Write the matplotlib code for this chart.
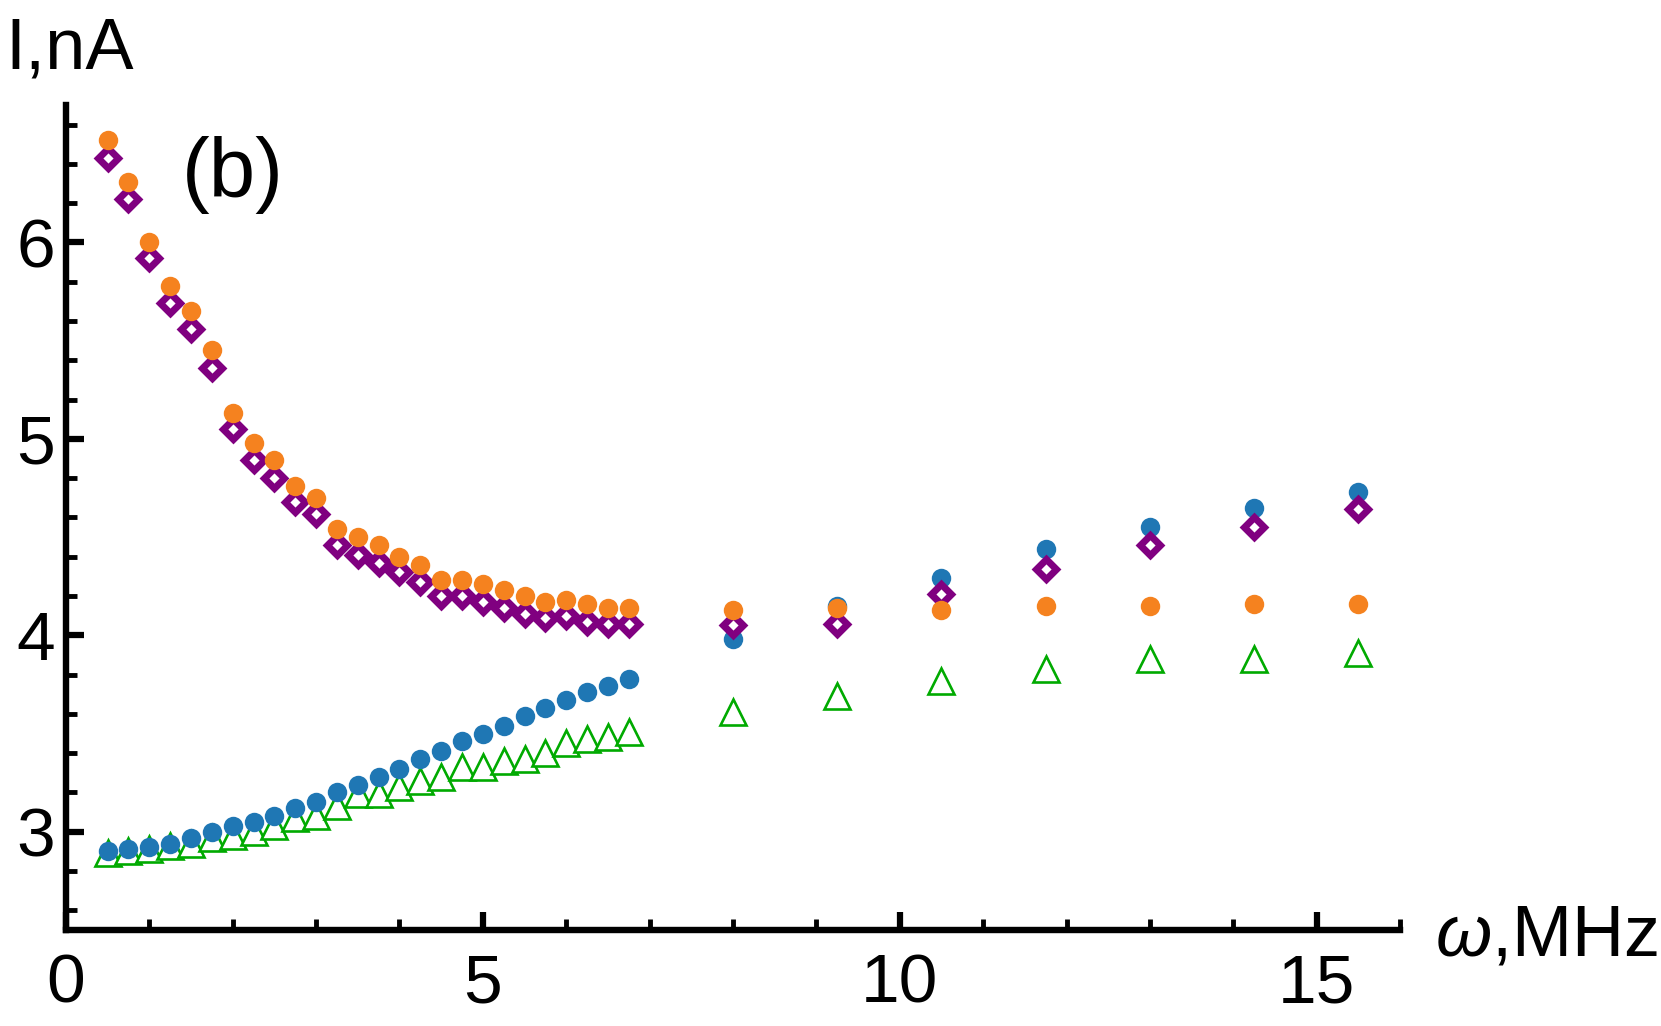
import numpy as np
import matplotlib
matplotlib.use('Agg')
import matplotlib.pyplot as plt
from matplotlib.ticker import MultipleLocator

plt.rcParams['font.family'] = ['Liberation Sans', 'DejaVu Sans']
plt.rcParams['mathtext.fontset'] = 'custom'
plt.rcParams['mathtext.it'] = 'Liberation Sans:italic'
plt.rcParams['mathtext.rm'] = 'Liberation Sans'

# frequencies, MHz
w_dense = np.arange(0.5, 6.76, 0.25)
w_sparse = [8.0, 9.25, 10.5, 11.75, 13.0, 14.25, 15.5]

# currents, nA
orange_dense = [6.52, 6.31, 6.00, 5.78, 5.65, 5.45, 5.13, 4.98, 4.89, 4.76,
                4.70, 4.54, 4.50, 4.46, 4.40, 4.36, 4.28, 4.28, 4.26, 4.23,
                4.20, 4.17, 4.18, 4.16, 4.14, 4.14]
purple_dense = [6.43, 6.22, 5.92, 5.69, 5.56, 5.36, 5.05, 4.89, 4.80, 4.68,
                4.62, 4.46, 4.41, 4.37, 4.32, 4.27, 4.20, 4.20, 4.17, 4.14,
                4.11, 4.09, 4.10, 4.07, 4.06, 4.06]
blue_dense = [2.90, 2.91, 2.92, 2.94, 2.97, 3.00, 3.03, 3.05, 3.08, 3.12,
              3.15, 3.20, 3.24, 3.28, 3.32, 3.37, 3.41, 3.46, 3.50, 3.54,
              3.59, 3.63, 3.67, 3.71, 3.74, 3.78]
green_dense = [2.89, 2.90, 2.91, 2.93, 2.94, 2.97, 2.98, 3.00, 3.03, 3.07,
               3.08, 3.13, 3.19, 3.19, 3.23, 3.26, 3.28, 3.33, 3.33, 3.36,
               3.37, 3.40, 3.45, 3.47, 3.48, 3.51]

orange_sparse = [4.13, 4.14, 4.13, 4.15, 4.15, 4.16, 4.16]
purple_sparse = [4.05, 4.06, 4.21, 4.34, 4.46, 4.55, 4.645]
blue_sparse = [3.98, 4.15, 4.29, 4.44, 4.55, 4.65, 4.73]
green_sparse = [3.61, 3.69, 3.77, 3.83, 3.88, 3.88, 3.91]

w = np.concatenate([w_dense, w_sparse])
orange = orange_dense + orange_sparse
purple = purple_dense + purple_sparse
blue = blue_dense + blue_sparse
green = green_dense + green_sparse

fig = plt.figure(figsize=(16.61, 10.26), dpi=100)
ax = fig.add_axes([0.0397, 0.0936, 0.8032, 0.8041])

ax.plot(w, green, ls='none', marker='^', ms=18.5, mfc='white', mec='#00aa00', mew=1.9)
ax.plot(w, blue, ls='none', marker='o', ms=14, mfc='#1f77b4', mec='none')
ax.plot(w, purple, ls='none', marker='D', ms=10, mfc='white', mec='#800080', mew=5.0)
ax.plot(w, orange, ls='none', marker='o', ms=14, mfc='#f5821f', mec='none')

ax.set_xlim(0, 16)
ax.set_ylim(2.5, 6.7)
ax.set_xticks([0, 5, 10, 15])
ax.set_yticks([3, 4, 5, 6])
ax.xaxis.set_minor_locator(MultipleLocator(1))
ax.yaxis.set_minor_locator(MultipleLocator(0.2))

for s in ['top', 'right']:
    ax.spines[s].set_visible(False)
for s in ['left', 'bottom']:
    ax.spines[s].set_linewidth(4.6)
ax.tick_params(which='both', direction='in')
ax.tick_params(which='major', length=13, width=4.5, labelsize=50)
ax.tick_params(which='minor', length=8, width=3.5)
ax.tick_params(axis='x', which='major', pad=16)
ax.tick_params(axis='y', which='major', pad=8)

fig.text(0.003, 0.9337, 'I,nA', fontsize=52, va='baseline', ha='left')
fig.text(0.864, 0.0692, r'$\omega$,MHz', fontsize=52, va='baseline', ha='left')
fig.text(0.1096, 0.808, '(b)', fontsize=60, va='baseline', ha='left')

fig.savefig('out.png', dpi=100)
